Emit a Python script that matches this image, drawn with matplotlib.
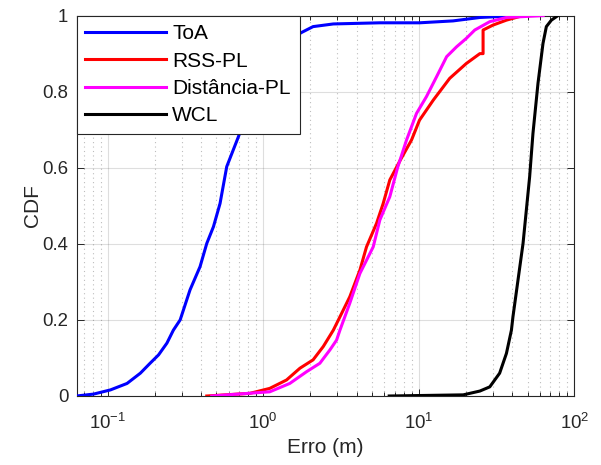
import matplotlib
matplotlib.use("Agg")
import matplotlib.pyplot as plt
from matplotlib.ticker import FixedLocator, FixedFormatter, LogLocator, NullFormatter

plt.rcParams['font.family'] = ['Liberation Sans', 'DejaVu Sans']
plt.rcParams['mathtext.default'] = 'regular'

# ---- data ----
toa_x = [0.063, 0.081, 0.104, 0.133, 0.162, 0.187, 0.212, 0.24, 0.264, 0.292, 0.338, 0.392,
         0.433, 0.478, 0.527, 0.582, 0.691, 0.85, 1.0, 1.2, 1.45, 1.77, 2.09, 2.82, 5.62,
         10.1, 16.6, 24.7, 45.0]
toa_y = [0.0, 0.005, 0.016, 0.033, 0.06, 0.086, 0.108, 0.139, 0.173, 0.2, 0.279, 0.34,
         0.401, 0.445, 0.506, 0.603, 0.681, 0.78, 0.85, 0.90, 0.935, 0.956, 0.971, 0.978, 0.981,
         0.981, 0.986, 0.995, 1.0]

rss_x = [0.433, 0.82, 1.1, 1.41, 1.72, 2.09, 2.43, 2.82, 3.11, 3.6, 4.18, 4.61, 5.35, 5.9,
         6.51, 7.6, 8.98, 10.1, 12.4, 15.8, 20.2, 24.7, 25.9, 25.9, 30.0, 36.6, 46.8]
rss_y = [0.0, 0.007, 0.02, 0.042, 0.073, 0.095, 0.13, 0.173, 0.208, 0.261, 0.331, 0.392,
         0.454, 0.506, 0.568, 0.62, 0.673, 0.725, 0.778, 0.835, 0.874, 0.9, 0.9, 0.962,
         0.975, 0.988, 1.0]

dist_x = [0.466, 1.1, 1.48, 1.9, 2.31, 2.68, 2.96, 3.11, 3.6, 4.18, 5.09, 5.62, 6.51, 7.3,
          8.34, 9.67, 11.2, 13.0, 15.1, 17.5, 20.2, 22.9, 28.6, 36.6, 63.0]
dist_y = [0.0, 0.011, 0.033, 0.064, 0.086, 0.121, 0.147, 0.173, 0.244, 0.322, 0.392, 0.463,
          0.524, 0.6, 0.673, 0.743, 0.787, 0.839, 0.892, 0.918, 0.94, 0.962, 0.984, 0.995, 1.0]

wcl_x = [6.45, 19.3, 24.7, 28.6, 33.1, 36.6, 39.4, 40.3, 46.8, 51.6, 54.2, 58.4, 62.9,
         66.1, 71.2, 78.5]
wcl_y = [0.0, 0.003, 0.013, 0.024, 0.06, 0.112, 0.173, 0.208, 0.401, 0.576, 0.69, 0.822,
         0.927, 0.971, 0.988, 1.0]

series_labels = ['ToA', 'RSS-PL', 'Distância-PL', 'WCL']
series_colors = ['#0000FF', '#FF0000', '#FF00FF', '#000000']

xtick_vals = [0.1, 1, 10, 100]
xtick_labels = [r'$10^{-1}$', r'$10^{0}$', r'$10^{1}$', r'$10^{2}$']
ytick_vals = [0, 0.2, 0.4, 0.6, 0.8, 1]
ytick_labels = ['0', '0.2', '0.4', '0.6', '0.8', '1']

# ---- figure ----
fig = plt.figure(figsize=(6.01, 4.65), dpi=100)
ax = fig.add_axes([0.1276, 0.1484, 0.9556 - 0.1276, 0.9665 - 0.1484])

axc = '#262626'
for xs, ys, lab, col in zip([toa_x, rss_x, dist_x, wcl_x], [toa_y, rss_y, dist_y, wcl_y],
                            series_labels, series_colors):
    ax.plot(xs, ys, color=col, lw=2.2, label=lab, solid_joinstyle='round', zorder=3)

ax.set_xscale('log')
ax.set_xlim(10 ** -1.2, 100)
ax.set_ylim(0, 1)

ax.xaxis.set_major_locator(FixedLocator(xtick_vals))
ax.xaxis.set_major_formatter(FixedFormatter(xtick_labels))
ax.xaxis.set_minor_locator(LogLocator(base=10, subs=range(2, 10), numticks=20))
ax.xaxis.set_minor_formatter(NullFormatter())
ax.yaxis.set_major_locator(FixedLocator(ytick_vals))
ax.yaxis.set_major_formatter(FixedFormatter(ytick_labels))

ax.tick_params(which='both', direction='in', top=True, right=True, colors=axc,
               labelcolor=axc, labelsize=13.4, width=0.7)
ax.tick_params(which='major', length=5)
ax.tick_params(axis='x', which='major', pad=12)
ax.tick_params(axis='y', which='major', pad=6)
ax.tick_params(which='minor', length=3)

ax.grid(True, which='major', color=axc, alpha=0.15, lw=0.8, zorder=0)
ax.grid(True, which='minor', axis='x', color=axc, alpha=0.3, lw=0.8,
        linestyle=(0, (1, 3)), zorder=0)
ax.set_axisbelow(True)

for s in ax.spines.values():
    s.set_color(axc)
    s.set_linewidth(0.8)

ax.set_xlabel('Erro (m)', fontsize=15, color=axc, labelpad=4)
ax.set_ylabel('CDF', fontsize=15, color=axc, labelpad=0)

leg = ax.legend(loc='upper left', fontsize=15, frameon=True, fancybox=False,
                framealpha=1, edgecolor=axc, borderaxespad=0, borderpad=0.42,
                handlelength=3.85, handletextpad=0.32, labelspacing=0.40)
leg.get_frame().set_linewidth(0.8)
leg.set_zorder(5)

fig.savefig('out.png', dpi=100)
